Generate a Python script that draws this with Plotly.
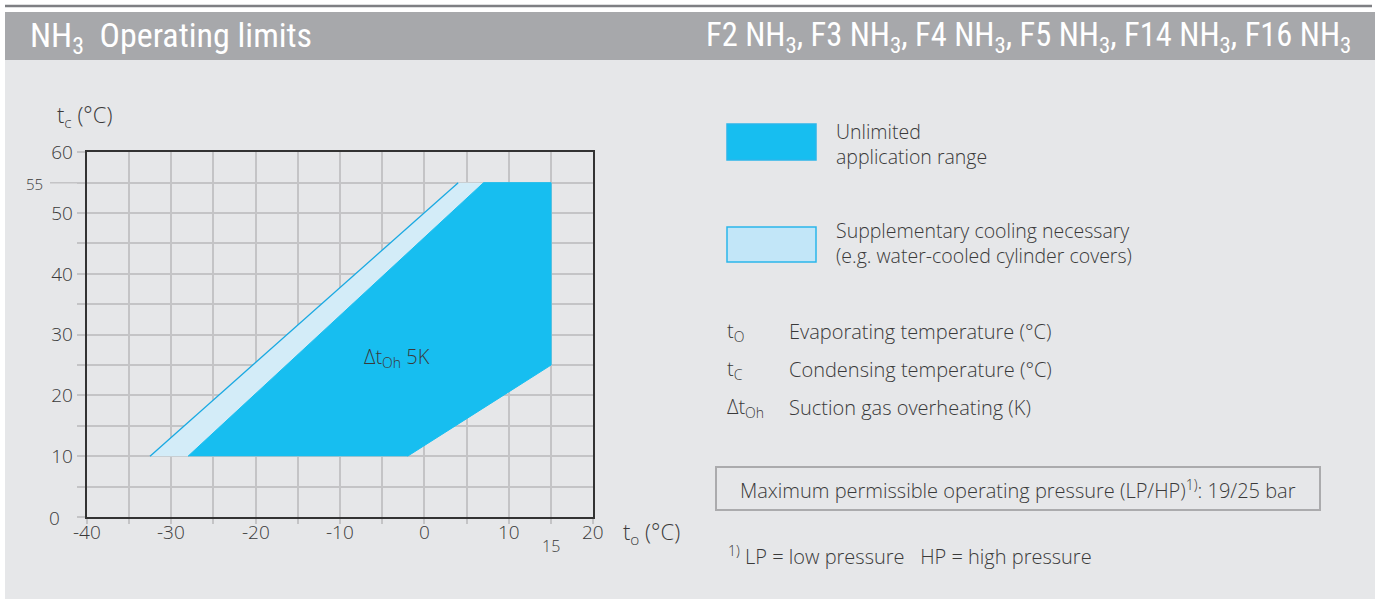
import plotly.graph_objects as go

W, H = 1378, 602

# Operating envelope polygons (to in °C, tc in °C)
cooling_to = [-32.5, 4.0, 7.0, -28.0]
cooling_tc = [10, 55, 55, 10]
unlimited_to = [-28.0, 7.0, 15.0, 15.0, -2.0]
unlimited_tc = [10, 55, 55, 25, 10]
cooling_edge_to = [-32.5, 4.0]
cooling_edge_tc = [10, 55]

# Axis ticks
x_ticks = [-40, -35, -30, -25, -20, -15, -10, -5, 0, 5, 10, 15, 20]
x_label_vals = [-40, -30, -20, -10, 0, 10, 20]
x_labels = ["-40", "-30", "-20", "-10", "0", "10", "20"]
y_ticks = [0, 5, 10, 15, 20, 25, 30, 35, 40, 45, 50, 55, 60]
y_labels = ["", "", "10", "", "20", "", "30", "", "40", "", "50", "", "60"]

BODY = "Open Sans, Noto Sans, sans-serif"
HEAD = "Liberation Sans Narrow, Roboto Condensed, Open Sans, sans-serif"
TXT = "#3a3a3a"
DARK = "#17bef0"
LIGHT = "#d3ecf8"
GRID = "#c4c4c6"


def xp(px):
    return px / W


def yp(py):
    return 1 - py / H


fig = go.Figure()

fig.add_trace(go.Scatter(
    x=cooling_to, y=cooling_tc, mode="lines", fill="toself",
    fillcolor=LIGHT, line=dict(width=0), hoverinfo="skip", showlegend=False))
fig.add_trace(go.Scatter(
    x=unlimited_to, y=unlimited_tc, mode="lines", fill="toself",
    fillcolor=DARK, line=dict(width=1, color=DARK), hoverinfo="skip", showlegend=False))
fig.add_trace(go.Scatter(
    x=cooling_edge_to, y=cooling_edge_tc, mode="lines",
    line=dict(width=1.3, color="#19a9e2"), hoverinfo="skip", showlegend=False))

shapes = [
    # panel background and header band
    dict(type="rect", xref="paper", yref="paper", x0=xp(5), x1=xp(1375), y0=yp(599), y1=yp(12),
         fillcolor="#e6e7e9", line=dict(width=0), layer="below"),
    dict(type="rect", xref="paper", yref="paper", x0=xp(5), x1=xp(1375), y0=yp(60), y1=yp(12),
         fillcolor="#a7a8ab", line=dict(width=0), layer="below"),
    dict(type="line", xref="paper", yref="paper", x0=xp(5), x1=xp(1372), y0=yp(6), y1=yp(6),
         line=dict(color="#7e7f83", width=2.5), layer="below"),
    # extended 55 °C grid line
    dict(type="line", xref="paper", yref="y", x0=xp(50), x1=xp(86), y0=55, y1=55,
         line=dict(color=GRID, width=1.5), layer="below"),
    # legend swatches
    dict(type="rect", xref="paper", yref="paper", x0=xp(727), x1=xp(816), y0=yp(160), y1=yp(124),
         fillcolor=DARK, line=dict(color="#2bb6ea", width=1.5)),
    dict(type="rect", xref="paper", yref="paper", x0=xp(727), x1=xp(816), y0=yp(262), y1=yp(227),
         fillcolor="#c2e6f8", line=dict(color="#2bb6ea", width=1.5)),
    # pressure box
    dict(type="rect", xref="paper", yref="paper", x0=xp(716), x1=xp(1320), y0=yp(510), y1=yp(467),
         fillcolor="rgba(0,0,0,0)", line=dict(color="#ababad", width=2)),
]

ann = []


def text(x, y, s, size=20, color=TXT, anchor="left", family=BODY, yanchor="middle", weight=300):
    ann.append(dict(x=xp(x), y=yp(y), xref="paper", yref="paper", text=s, showarrow=False,
                    xanchor=anchor, yanchor=yanchor, align=anchor if anchor != "center" else "center",
                    font=dict(family=family, size=size, color=color, weight=weight)))


# header
text(28, 37, "NH<sub>3</sub>  Operating limits", size=34, color="white", family=HEAD, weight=400)
text(1353, 37, "F2 NH<sub>3</sub>, F3 NH<sub>3</sub>, F4 NH<sub>3</sub>, F5 NH<sub>3</sub>, "
     "F14 NH<sub>3</sub>, F16 NH<sub>3</sub>", size=32.5, color="white", anchor="right",
     family=HEAD, weight=400)

# x tick labels under the axis
for v, s in zip(x_label_vals, x_labels):
    ann.append(dict(x=v, y=yp(532), xref="x", yref="paper", text=s, showarrow=False,
                    xanchor="center", yanchor="middle",
                    font=dict(family=BODY, size=19, color=TXT, weight=300)))

# axis titles and special labels
text(55, 116, "t<sub>c</sub> (°C)", size=22)
text(621, 533, "t<sub>o</sub> (°C)", size=22)
text(45, 184, "55", size=15, anchor="right")
text(62, 518, "0", size=19, anchor="right")
text(551, 546, "15", size=16, anchor="center")

# legend texts
text(834, 143.5, "Unlimited<br>application range", size=19.5)
text(834, 243.5, "Supplementary cooling necessary<br>(e.g. water-cooled cylinder covers)", size=19.5)

# symbol definitions
text(725, 331, "t<sub>O</sub>")
text(787, 331, "Evaporating temperature (°C)")
text(725, 369, "t<sub>C</sub>")
text(787, 369, "Condensing temperature (°C)")
text(725, 407, "Δt<sub>Oh</sub>")
text(787, 407, "Suction gas overheating (K)")

# pressure note and footnote
text(1018, 489, "Maximum permissible operating pressure (LP/HP)<sup>1)</sup>: 19/25 bar",
     anchor="center")
text(726, 555, "<sup>1)</sup> LP = low pressure\u00a0\u00a0\u00a0HP = high pressure")

# label inside the envelope
ann.append(dict(x=-3.2, y=26.3, xref="x", yref="y", text="Δt<sub>Oh</sub> 5K", showarrow=False,
                font=dict(family=BODY, size=20, color=TXT, weight=300)))

tickfont = dict(family=BODY, size=19, color=TXT, weight=300)

fig.update_layout(
    width=W, height=H, autosize=False,
    margin=dict(l=0, r=0, t=0, b=0, pad=0, autoexpand=False),
    paper_bgcolor="white", plot_bgcolor="rgba(0,0,0,0)",
    shapes=shapes, annotations=ann, showlegend=False,
    xaxis=dict(domain=[xp(86.7), xp(593.3)], range=[-40, 20], tickmode="array", automargin=False,
               tickvals=x_ticks, showticklabels=False, showgrid=True, gridcolor=GRID, gridwidth=1.5,
               ticks="outside", ticklen=5, tickcolor=GRID, tickwidth=1.5,
               showline=True, linecolor="#333333", linewidth=2, mirror=True, zeroline=False,
               fixedrange=True),
    yaxis=dict(domain=[yp(517), yp(152.3)], range=[0, 60], tickmode="array", automargin=False,
               tickvals=y_ticks, ticktext=y_labels, showgrid=True, gridcolor=GRID, gridwidth=1.5,
               ticks="outside", ticklen=8, tickcolor=GRID, tickwidth=1.5,
               showline=True, linecolor="#333333", linewidth=2, mirror=True, zeroline=False,
               tickfont=tickfont, fixedrange=True),
)

fig.write_html("out.html", post_script="document.body.style.margin='0';"
                                       "document.body.style.overflow='hidden';")
